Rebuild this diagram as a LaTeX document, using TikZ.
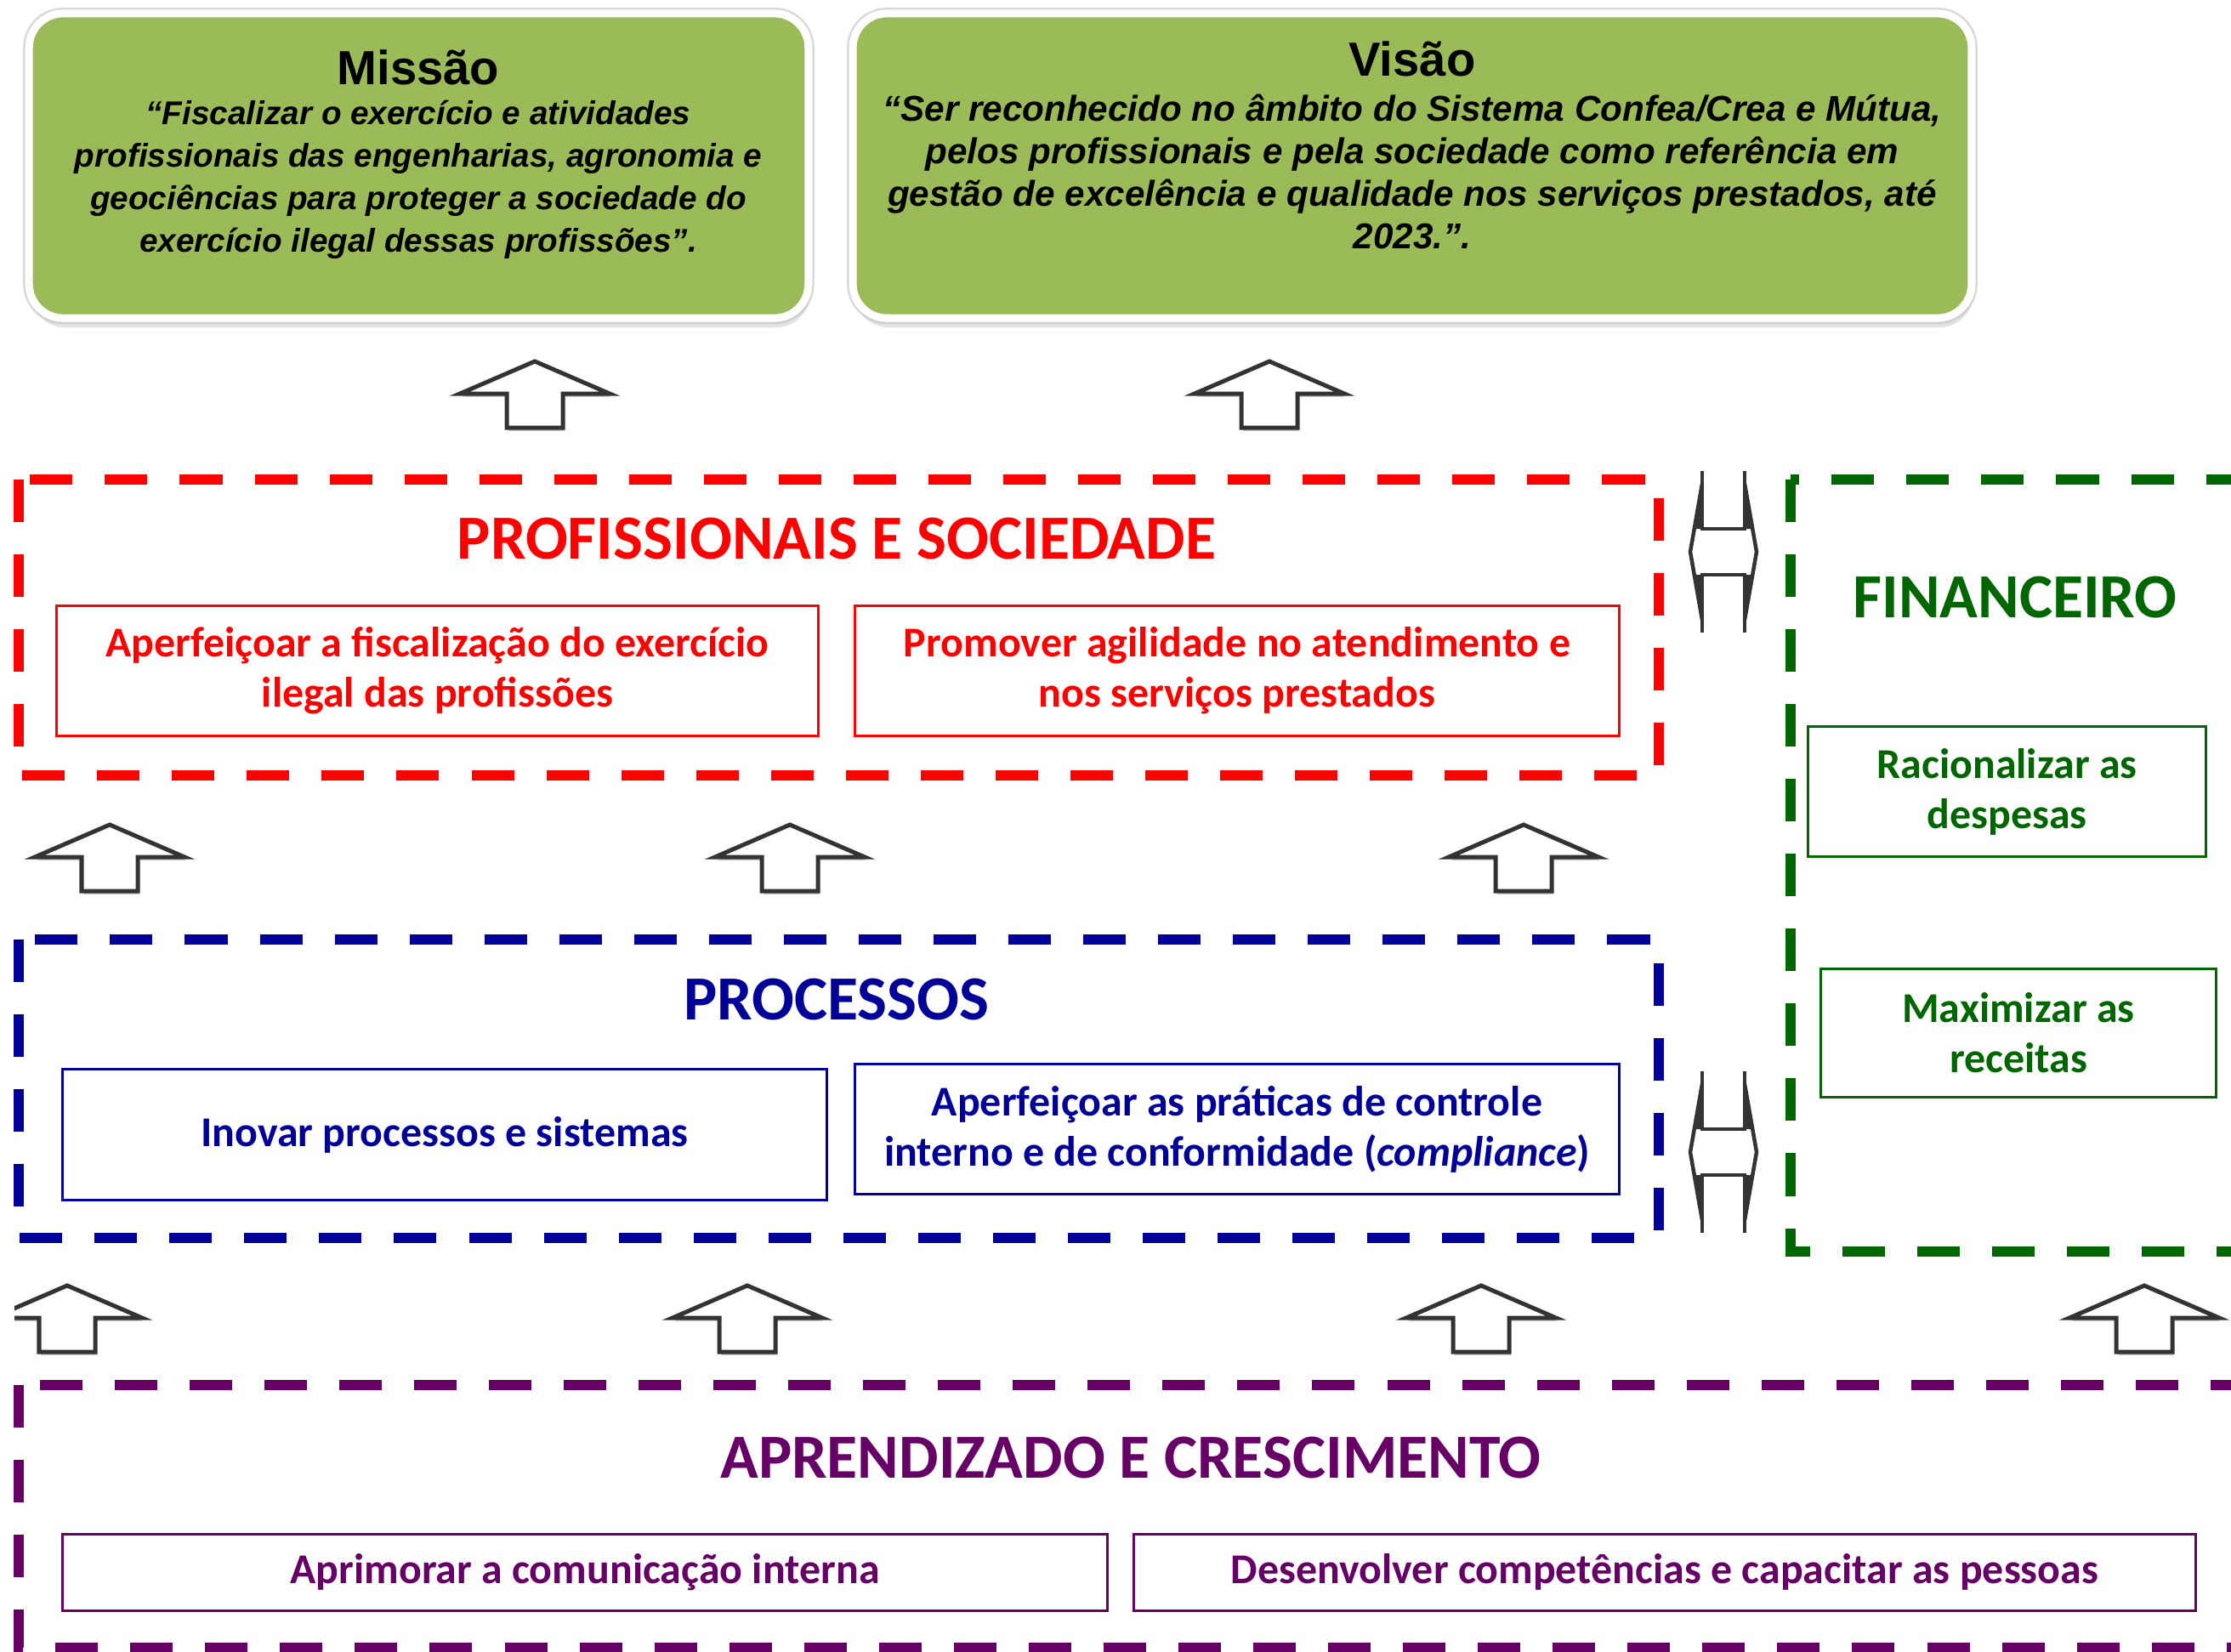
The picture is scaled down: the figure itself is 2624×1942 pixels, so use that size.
\documentclass[tikz,border=0pt]{standalone}
\usepackage{fontspec}
\setmainfont{Carlito}
\newfontfamily\arialfont{Liberation Sans}
\usetikzlibrary{shadows}
\definecolor{leafgreen}{HTML}{9BBB59}
\definecolor{psred}{HTML}{FF0000}
\definecolor{procblue}{HTML}{000099}
\definecolor{fingreen}{HTML}{006600}
\definecolor{learnpurple}{HTML}{660066}
\definecolor{arrowgray}{HTML}{333333}

\begin{document}
\begin{tikzpicture}[x=0.01cm, y=-0.01cm]
  \tikzset{
    perspective/.style={draw=#1, line width=1.2mm, dash pattern=on 5mm off 3.8mm},
    perstitle/.style={text=#1, font=\bfseries\fontsize{21}{25}\selectfont, inner sep=0pt},
    goal/.style={draw=#1, text=#1, line width=0.3mm, align=center, inner sep=0pt,
      font=\bfseries\fontsize{14.2}{16.8}\selectfont},
    statement/.style={rounded corners=4mm, fill=leafgreen, draw=white, line width=0.9mm,
      preaction={draw=gray!30, line width=1.4mm},
      drop shadow={shadow xshift=0.2mm, shadow yshift=-1.1mm, fill=gray!45}},
    stitle/.style={font=\arialfont\bfseries\fontsize{16}{19}\selectfont, inner sep=0pt},
    squote/.style={font=\arialfont\bfseries\itshape\fontsize{#1}{14.2}\selectfont, align=center, inner sep=0pt},
    upblock/.pic={
      \fill[gray!40] (2,4) -- (90,42) -- (35,42) -- (35,82) -- (-31,82) -- (-31,42) -- (-86,42) -- cycle;
      \draw[arrowgray, line width=0.5mm, fill=white] (0,0) -- (88,38) -- (33,38) -- (33,78)
        -- (-33,78) -- (-33,38) -- (-88,38) -- cycle;
    },
    updown/.pic={
      \draw[arrowgray, line width=0.45mm] (-25,-95) -- (-25,-27) -- (25,-27) -- (25,-95);
      \draw[arrowgray, line width=0.45mm] (-25,95) -- (-25,27) -- (25,27) -- (25,95);
      \draw[arrowgray, line width=0.45mm] (-25,-80) -- (-39,0) -- (-25,80);
      \draw[arrowgray, line width=0.45mm] (25,-80) -- (39,0) -- (25,80);
      \fill[arrowgray] (-25,-80) -- (-34,-27) -- (-25,-27) -- cycle;
      \fill[arrowgray] (-25,80) -- (-34,27) -- (-25,27) -- cycle;
      \fill[arrowgray] (25,-80) -- (34,-27) -- (25,-27) -- cycle;
      \fill[arrowgray] (25,80) -- (34,27) -- (25,27) -- cycle;
    }
  }
  \useasboundingbox (0,0) rectangle (2624,1942);
  \clip (0,0) rectangle (2624,1942);

  \node[statement, minimum width=91.6mm, minimum height=35.8mm] (missao) at (492.5,195) {};
  \node[statement, minimum width=131.5mm, minimum height=35.8mm] (visao) at (1661,195) {};
  \node[stitle] (missaoT) at (492,79) {Missão};
  \node[squote=11] (missaoQ) at (492,211) {“Fiscalizar o exercício e atividades\\
    profissionais das engenharias, agronomia e\\
    geociências para proteger a sociedade do\\
    exercício ilegal dessas profissões”.};
  \node[stitle] (visaoT) at (1661,69) {Visão};
  \node[squote=12] (visaoQ) at (1661,202) {“Ser reconhecido no âmbito do Sistema Confea/Crea e Mútua,\\
    pelos profissionais e pela sociedade como referência em\\
    gestão de excelência e qualidade nos serviços prestados, até\\
    2023.”.};

  \pic at (629,425) {upblock};
  \pic at (1493,425) {upblock};

  \draw[perspective=psred] (22,564) rectangle (1951,912);
  \node[perstitle=psred] (sociedade) at (984,634) {PROFISSIONAIS E SOCIEDADE};
  \node[goal=psred, minimum width=89.5mm, minimum height=15.2mm] (fiscal) at (514.5,789)
    {Aperfeiçoar a fiscalização do exercício\\ilegal das profissões};
  \node[goal=psred, minimum width=89.8mm, minimum height=15.2mm] (agil) at (1455,789)
    {Promover agilidade no atendimento e\\nos serviços prestados};

  \pic at (129,970) {upblock};
  \pic at (929,970) {upblock};
  \pic at (1792,970) {upblock};

  \draw[perspective=procblue] (22,1105) rectangle (1951,1456);
  \node[perstitle=procblue] (processos) at (984,1176) {PROCESSOS};
  \node[goal=procblue, minimum width=89.8mm, minimum height=15.3mm] (inovar) at (523,1334.5)
    {Inovar processos e sistemas};
  \node[goal=procblue, minimum width=89.8mm, minimum height=15.2mm] (controle) at (1455,1328)
    {Aperfeiçoar as práticas de controle\\interno e de conformidade (\textit{compliance})};

  \draw[perspective=fingreen] (2106,564) rectangle (2700,1472);
  \node[perstitle=fingreen] (financeiro) at (2370,703) {FINANCEIRO};
  \node[goal=fingreen, minimum width=46.7mm, minimum height=15.2mm] (despesas) at (2360.5,931)
    {Racionalizar as\\despesas};
  \node[goal=fingreen, minimum width=46.4mm, minimum height=15mm] (receitas) at (2374,1215)
    {Maximizar as\\receitas};

  \pic at (2027,649) {updown};
  \pic at (2027,1355) {updown};

  \begin{scope}
    \clip (17,1400) rectangle (400,1600);
    \pic at (79,1512) {upblock};
  \end{scope}
  \pic at (879,1512) {upblock};
  \pic at (1742,1512) {upblock};
  \pic at (2522,1512) {upblock};

  \draw[perspective=learnpurple] (22,1629) rectangle (2700,1938);
  \node[perstitle=learnpurple] (aprendizado) at (1330,1715) {APRENDIZADO E CRESCIMENTO};
  \node[goal=learnpurple, minimum width=122.8mm, minimum height=9mm] (comunicacao) at (688,1849)
    {Aprimorar a comunicação interna};
  \node[goal=learnpurple, minimum width=124.8mm, minimum height=9mm] (pessoas) at (1958,1849)
    {Desenvolver competências e capacitar as pessoas};
\end{tikzpicture}
\end{document}
